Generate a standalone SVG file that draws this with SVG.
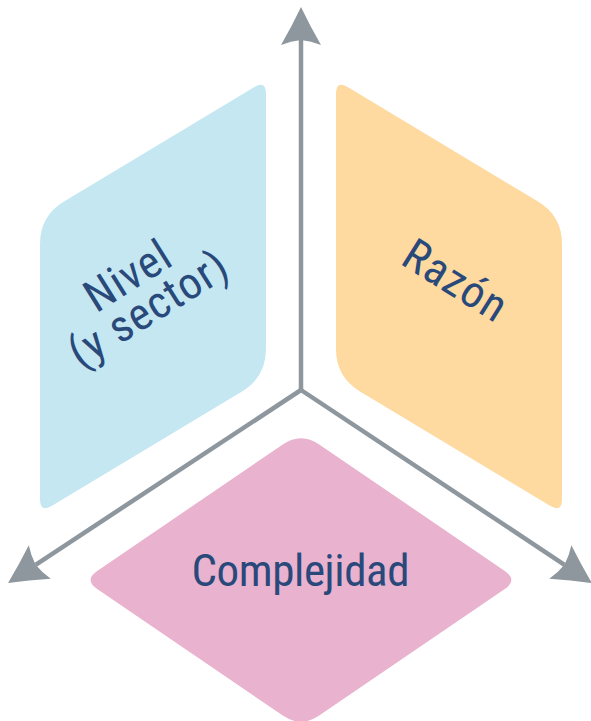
<svg xmlns="http://www.w3.org/2000/svg" width="591" height="721" viewBox="0 0 591 721">
<style>
.lbl{font-family:"Liberation Sans Narrow","Roboto Condensed","Liberation Sans",sans-serif;font-size:45px;fill:#28497a;text-anchor:middle;letter-spacing:1px}
.axis{stroke:#8e979e;stroke-width:4.5;fill:none;marker-end:url(#ah)}
</style>
<defs>
<marker id="ah" markerUnits="userSpaceOnUse" viewBox="-10 -25 50 50" markerWidth="50" markerHeight="50" refX="0" refY="0" orient="auto">
<path d="M33,0 Q14,-9 -5,-20 Q-1,-10 0,0 Q-1,10 -5,20 Q14,9 33,0 Z" fill="#8e979e"/>
</marker>
</defs>
<g id="nivel">
<path d="M254,87.2 Q266,80 266,94 L266,349 Q266,377 242,391.4 L52,505.8 Q40,513 40,499 L40,244 Q40,216 64,201.6 Z" fill="#c5e7f1"/>
<g transform="translate(138,292) rotate(-32)">
<text class="lbl" x="0" y="-4">Nivel</text>
<text class="lbl" x="0" y="35">(y sector)</text>
</g>
</g>
<g id="razon">
<path d="M348,87.2 L538,201.6 Q562,216 562,244 L562,499 Q562,513 550,505.8 L360,391.4 Q336,377 336,349 L336,94 Q336,80 348,87.2 Z" fill="#fed9a0"/>
<text class="lbl" transform="translate(456,280) rotate(32)" x="0" y="16">Razón</text>
</g>
<g id="complejidad">
<path d="M282.8,444.4 Q301,432 319.2,444.4 L504.8,571 Q518,580 504.8,589 L319.2,715.6 Q301,728 282.8,715.6 L97.2,589 Q84,580 97.2,571 Z" fill="#e9b2cf"/>
<text class="lbl" x="301" y="586" textLength="219" lengthAdjust="spacing">Complejidad</text>
</g>
<g id="connectors">
<line class="axis" x1="301" y1="390" x2="301" y2="40"/>
<line class="axis" x1="301" y1="390" x2="35.6" y2="564.8"/>
<line class="axis" x1="301" y1="390" x2="564.5" y2="564.8"/>
</g>
</svg>
